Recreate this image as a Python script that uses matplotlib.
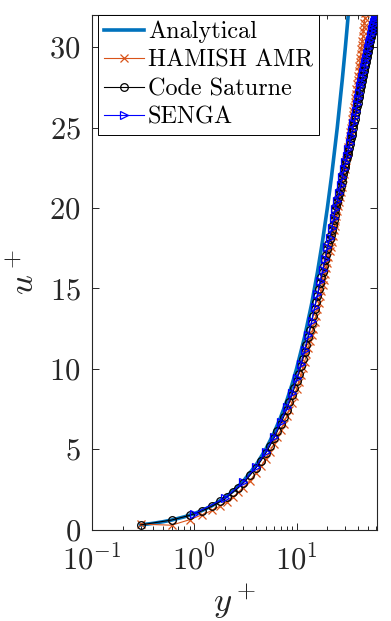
import matplotlib
matplotlib.use("Agg")
from matplotlib import pyplot as plt
from matplotlib.ticker import FixedLocator, LogLocator, NullFormatter

plt.rcParams["font.family"] = "serif"
plt.rcParams["font.serif"] = ["cmr10"]
plt.rcParams["mathtext.fontset"] = "cm"
plt.rcParams["axes.formatter.use_mathtext"] = True

# analytical profile u+ = y+
yp_analytical = [0.3, 0.4, 0.5, 0.6, 0.8, 1, 1.2, 1.5, 2, 2.5, 3, 4, 5, 6, 7, 8,
                 9, 10, 12, 14, 16, 18, 20, 22, 25, 28, 30, 32, 33]
up_analytical = [0.3, 0.4, 0.5, 0.6, 0.8, 1, 1.2, 1.5, 2, 2.5, 3, 4, 5, 6, 7, 8,
                 9, 10, 12, 14, 16, 18, 20, 22, 25, 28, 30, 32, 33]

# Code Saturne
yp_cs = [0.3, 0.6, 0.9, 1.2, 1.5, 1.8, 2.1, 2.4, 2.7,
         3.0, 3.5, 4.0, 4.5, 5.0, 5.5, 6.0, 6.5, 7.0, 7.5, 8.0, 8.5, 9.0, 9.5,
         10.0, 10.5, 11.0, 11.5, 12.0, 12.5, 13.0, 13.5, 14.0, 14.5, 15.0, 15.5,
         16.0, 16.5, 17.0, 17.5, 18.0, 18.5, 19.0, 19.5, 20.0, 20.5, 21.0, 21.5,
         22.0, 22.5, 23.0, 23.5, 24.0, 24.5, 25.0, 25.5, 26.0, 26.5, 27.0, 27.5,
         28.0, 28.5, 29.0, 29.5, 30.0, 30.5, 31.0, 31.5, 32.0, 32.5, 33.0, 33.5,
         34.0, 34.5, 35.0, 35.5, 36.0, 36.5, 37.0, 37.5, 38.0, 38.5, 39.0, 39.5,
         40.0, 40.5, 41.0, 41.5, 42.0, 42.5, 43.0, 43.5, 44.0, 44.5, 45.0, 45.5,
         46.0, 46.5, 47.0, 47.5, 48.0, 48.5, 49.0, 49.5, 50.0, 50.5, 51.0, 51.5,
         52.0, 52.5, 53.0, 53.5, 54.0, 54.5, 55.0, 55.5, 56.0, 56.5, 57.0, 57.5,
         58.0, 58.5, 59.0, 59.5, 60.0, 60.5, 61.0]
up_cs = [0.3, 0.6, 0.89, 1.18, 1.47, 1.76, 2.05, 2.34, 2.62,
         2.90, 3.37, 3.83, 4.30, 4.76, 5.22, 5.68, 6.13, 6.58, 7.03, 7.47, 7.91,
         8.35, 8.80, 9.25, 9.70, 10.15, 10.60, 11.05, 11.50, 11.95, 12.40, 12.85,
         13.30, 13.75, 14.15, 14.55, 14.95, 15.35, 15.70, 16.05, 16.40, 16.75,
         17.10, 17.45, 17.75, 18.05, 18.35, 18.65, 18.95, 19.25, 19.55, 19.85,
         20.10, 20.35, 20.60, 20.85, 21.10, 21.35, 21.60, 21.85, 22.10, 22.35,
         22.55, 22.75, 22.95, 23.15, 23.35, 23.55, 23.75, 23.95, 24.15, 24.35,
         24.55, 24.75, 24.95, 25.15, 25.35, 25.55, 25.75, 25.95, 26.15, 26.35,
         26.55, 26.75, 26.90, 27.05, 27.25, 27.45, 27.60, 27.75, 27.90, 28.05,
         28.20, 28.35, 28.50, 28.65, 28.80, 28.95, 29.10, 29.25, 29.40, 29.55,
         29.70, 29.85, 30.00, 30.15, 30.25, 30.35, 30.50, 30.65, 30.75, 30.85,
         30.95, 31.05, 31.15, 31.25, 31.35, 31.45, 31.55, 31.65, 31.70, 31.75,
         31.80, 31.85, 31.90, 31.95]

# SENGA
yp_senga = [1, 2, 3, 4, 5, 6, 7, 8, 9, 10, 11, 12, 13, 14, 15, 16, 17, 18, 19,
            20, 21, 22, 23, 24, 25, 26, 27, 28, 29, 30, 31, 32, 33, 34, 35, 36,
            37, 38, 39, 40, 41, 42, 43, 44, 45, 46, 47, 48, 49, 50, 51, 52, 53,
            54, 55, 56, 57, 58, 59, 60, 61, 62]
up_senga = [1.0, 1.97, 2.95, 3.9, 4.85, 5.78, 6.7, 7.6, 8.5, 9.4, 10.3, 11.2,
            12.1, 12.95, 13.85, 14.65, 15.45, 16.15, 16.85, 17.55, 18.15, 18.75,
            19.35, 19.95, 20.45, 20.95, 21.45, 21.95, 22.45, 22.85, 23.25,
            23.65, 24.05, 24.45, 24.85, 25.25, 25.65, 26.05, 26.45, 26.85,
            27.15, 27.55, 27.85, 28.15, 28.45, 28.75, 29.05, 29.35, 29.65,
            29.95, 30.25, 30.45, 30.75, 30.95, 31.15, 31.35, 31.55, 31.75,
            31.85, 31.95, 32.05, 32.1]

# HAMISH AMR
yp_hamish = [0.3, 0.6, 0.9, 1.2, 1.5, 1.8, 2.1, 2.4, 2.7,
             3.0, 3.5, 4.0, 4.5, 5.0, 5.5, 6.0, 6.5, 7.0, 7.5, 8.0, 8.5, 9.0,
             9.5, 10.0, 10.5, 11.0, 11.5, 12.0, 12.5, 13.0, 13.5, 14.0, 14.5,
             15.0, 15.5, 16.0, 16.5, 17.0, 17.5, 18.0, 18.5, 19.0, 19.5, 20.0,
             20.5, 21.0, 21.5, 22.0, 22.5, 23.0, 23.5, 24.0, 24.5, 25.0, 25.5,
             26.0, 26.5, 27.0, 27.5, 28.0, 28.5, 29.0, 29.5, 30.0, 30.5, 31.0,
             31.5, 32.0, 32.5, 33.0, 33.5, 34.0, 34.5, 35.0, 35.5, 36.0, 36.5,
             37.0, 37.5, 38.0, 38.5, 39.0, 39.5, 40.0, 40.5, 41.0, 41.5, 42.0,
             42.5, 43.0, 43.5, 44.0, 44.5, 45.0, 45.5, 46.0, 46.5, 47.0, 47.5,
             48.0]
up_hamish = [0.35, 0.28, 0.62, 0.93, 1.2, 1.48, 1.75, 2.05, 2.32,
             2.6, 3.05, 3.5, 3.95, 4.4, 4.85, 5.3, 5.75, 6.2, 6.6, 7.05, 7.45,
             7.9, 8.3, 8.75, 9.2, 9.6, 10.05, 10.45, 10.9, 11.3, 11.7, 12.1,
             12.5, 12.9, 13.3, 13.7, 14.1, 14.5, 14.85, 15.2, 15.55, 15.9,
             16.25, 16.6, 16.95, 17.3, 17.6, 17.9, 18.25, 18.6, 18.9, 19.2,
             19.5, 19.8, 20.1, 20.4, 20.7, 21.0, 21.3, 21.6, 21.85, 22.1, 22.4,
             22.7, 22.95, 23.2, 23.5, 23.8, 24.15, 24.5, 24.75, 25.0, 25.25,
             25.5, 25.75, 26.0, 26.3, 26.6, 26.85, 27.1, 27.4, 27.7, 27.95,
             28.2, 28.5, 28.8, 29.05, 29.3, 29.6, 29.9, 30.15, 30.4, 30.7,
             31.0, 31.25, 31.5, 31.8, 32.1, 32.35, 32.6]

fig = plt.figure(figsize=(3.91, 6.21), dpi=100)
ax = fig.add_axes([0.235, 0.147, 0.729, 0.829])

ax.plot(yp_analytical, up_analytical, color="#0072BD", lw=2.6, label="Analytical")
ax.plot(yp_hamish, up_hamish, color="#D95319", lw=0.8, marker="x", ms=5.5,
        mew=0.9, label="HAMISH AMR")
ax.plot(yp_cs, up_cs, color="k", lw=0.8, marker="o", ms=5.5, mfc="none",
        mew=0.9, label="Code Saturne")
ax.plot(yp_senga, up_senga, color="b", lw=0.8, marker=">", ms=5.5, mfc="none",
        mew=0.9, label="SENGA")

ax.set_xscale("log")
ax.set_xlim(0.1, 61)
ax.set_ylim(0, 32)
ax.xaxis.set_major_locator(FixedLocator([0.1, 1, 10]))
ax.xaxis.set_minor_locator(LogLocator(base=10, subs=range(2, 10)))
ax.xaxis.set_minor_formatter(NullFormatter())
ax.set_yticks([0, 5, 10, 15, 20, 25, 30])

ax.tick_params(which="both", direction="in", top=True, right=True,
               labelsize=22, colors="#262626", width=0.7)
ax.tick_params(which="major", length=5)
ax.tick_params(which="minor", length=3)
ax.tick_params(axis="y", pad=8)
ax.tick_params(axis="x", pad=11)
for s in ax.spines.values():
    s.set_linewidth(0.8)
    s.set_color("#262626")

ax.set_xlabel(r"$y^+$", fontsize=25, color="#262626", labelpad=4)
ax.set_ylabel(r"$u^+$", fontsize=25, color="#262626", labelpad=6)

leg = ax.legend(loc="upper left", bbox_to_anchor=(0.021, 1.0), fontsize=17.4,
                fancybox=False, edgecolor="k", framealpha=1, borderaxespad=0,
                handlelength=1.65, handletextpad=0.17, labelspacing=0.26,
                borderpad=0.25)
leg.get_frame().set_linewidth(0.7)

fig.savefig("out.png", dpi=100)
